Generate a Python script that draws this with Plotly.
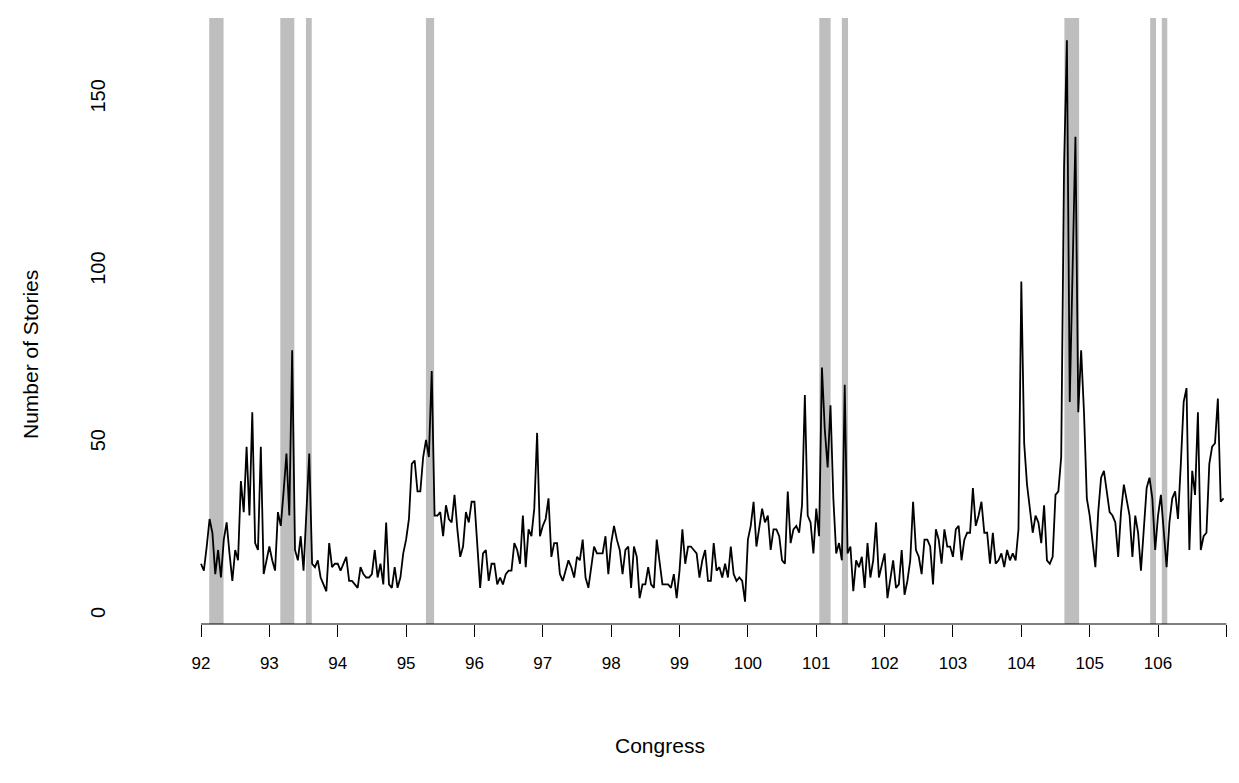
import plotly.graph_objects as go

# Monthly story counts, one list per Congress (24 months each)
c92 = [15,13,20,28,24,12,19,11,22,27,18,10,19,16,39,30,49,29,59,21,19,49,12,16]
c93 = [20,16,13,30,26,36,47,29,77,19,16,23,13,30,47,15,14,16,11,9,7,21,14,15]
c94 = [15,13,15,17,10,10,9,8,14,12,11,11,12,19,11,15,9,27,9,8,14,8,11,18]
c95 = [22,28,44,45,36,36,46,51,46,71,29,29,30,23,32,28,27,35,25,17,20,30,27,33]
c96 = [33,21,8,18,19,10,15,15,9,11,9,12,13,13,21,19,15,29,14,25,23,31,53,23]
c97 = [26,28,34,17,21,21,12,10,13,16,14,11,17,16,22,11,8,14,20,18,18,18,23,12]
c98 = [21,26,22,19,12,19,20,8,20,17,5,9,9,14,9,8,22,15,9,9,9,8,12,5]
c99 = [13,25,15,20,20,19,18,11,16,19,10,10,21,13,14,11,15,11,20,12,10,11,10,4]
c100 = [22,26,33,20,26,31,27,29,19,25,25,23,16,15,36,21,25,26,24,32,64,29,27,18]
c101 = [31,23,72,54,43,61,34,18,21,16,67,18,20,7,16,14,17,8,21,11,16,27,11,15]
c102 = [18,5,10,16,8,9,19,6,10,16,33,19,17,12,22,22,20,9,25,22,15,25,20,20]
c103 = [17,25,26,16,22,24,24,37,26,29,33,24,24,15,24,15,16,18,14,19,16,18,16,25]
c104 = [97,50,38,31,24,29,27,21,32,16,15,17,35,36,46,130,167,62,99,139,59,77,59,34]
c105 = [29,22,14,30,40,42,36,30,29,27,17,30,38,33,29,17,29,24,13,25,37,40,34,19]
c106 = [29,35,25,14,27,34,36,28,44,62,66,19,42,35,59,19,23,24,44,49,50,63,33,34]

stories = c92 + c93 + c94 + c95 + c96 + c97 + c98 + c99 + c100 + c101 + c102 + c103 + c104 + c105 + c106
first_congress = 92
months_per_congress = 24
congress_pos = [first_congress + i / months_per_congress for i in range(len(stories))]

# Shaded periods (start, end) in Congress units
shade_start = [92.12, 93.16, 93.535, 95.29, 101.045, 101.375, 104.63, 105.885, 106.055]
shade_end   = [92.33, 93.365, 93.62, 95.41, 101.21, 101.465, 104.845, 105.97, 106.135]

tick_vals = list(range(92, 107))
tick_text = [str(v) for v in tick_vals]
y_ticks = [0, 50, 100, 150]

FONT = "Liberation Sans, Arial, Helvetica, sans-serif"

fig = go.Figure()
fig.add_trace(go.Scatter(x=congress_pos, y=stories, mode="lines",
                         line=dict(color="black", width=1.8), hoverinfo="x+y",
                         showlegend=False))

shapes = []
for s, e in zip(shade_start, shade_end):
    shapes.append(dict(type="rect", xref="x", yref="paper", x0=s, x1=e, y0=0, y1=1,
                       fillcolor="#BEBEBE", line=dict(width=0), layer="below"))
# R-style x axis line spanning first to last tick
shapes.append(dict(type="line", xref="x", yref="paper", x0=tick_vals[0], x1=107,
                   y0=0, y1=0, line=dict(color="black", width=1)))

# page body has an 8px default margin, so the figure is sized to fit inside the window
fig.update_layout(
    width=1231, height=775,
    margin=dict(l=152, r=10, t=10, b=159),
    paper_bgcolor="white", plot_bgcolor="white",
    font=dict(family=FONT, size=18, color="black"),
    shapes=shapes,
    xaxis=dict(range=[91.4, 107.038], tickmode="array",
               tickvals=tick_vals + [107], ticktext=tick_text + [""],
               ticks="outside", ticklen=12, tickwidth=1, tickcolor="black",
               showline=False, showgrid=False, zeroline=False, automargin=False,
               ticklabelstandoff=12, tickfont=dict(size=17)),
    yaxis=dict(range=[-2.5, 173.5], tickmode="array", tickvals=y_ticks,
               ticktext=[str(v) for v in y_ticks],
               ticks="", tickangle=-90, showline=False, showgrid=False,
               zeroline=False, automargin=False,
               ticklabelstandoff=50, tickfont=dict(size=20)),
    annotations=[
        dict(text="Congress", xref="paper", yref="paper", x=(660-160)/1069, y=-(745-624)/606,
             showarrow=False, font=dict(size=21), xanchor="center", yanchor="middle"),
        dict(text="Number of Stories", xref="paper", yref="paper", x=-(160-30)/1069,
             y=(624-355)/606, textangle=-90, showarrow=False, font=dict(size=21),
             xanchor="center", yanchor="middle"),
    ],
)

fig.write_html("out.html")
